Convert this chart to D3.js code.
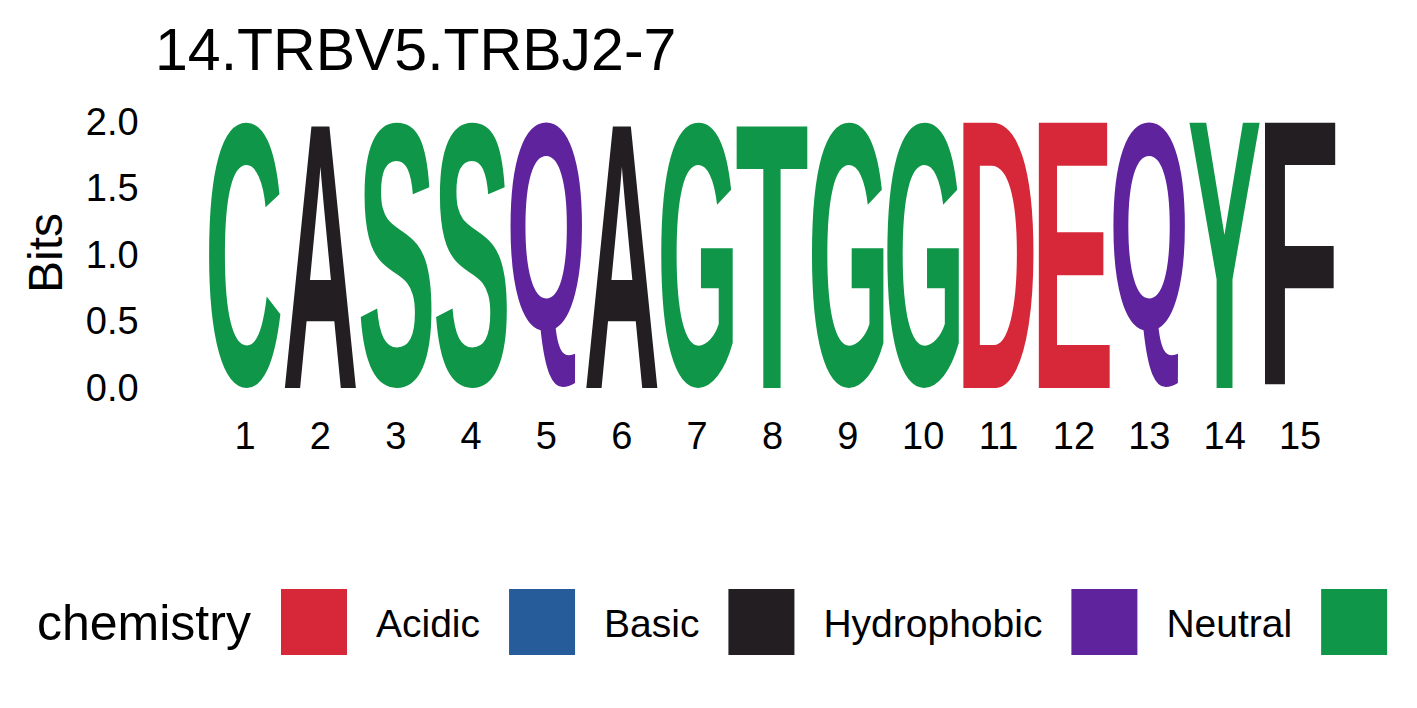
<!DOCTYPE html>
<html>
<head>
<meta charset="utf-8">
<script src="https://cdn.jsdelivr.net/npm/d3@7"></script>
<style>
  html, body { margin: 0; padding: 0; background: #fff; }
  svg text { font-family: 'Liberation Sans', Arial, Helvetica, sans-serif; }
</style>
</head>
<body>
<svg id="logo"></svg>
<script>
const title = '14.TRBV5.TRBJ2-7'
const positions = d3.range(1, 16)
const letters = ['C','A','S','S','Q','A','G','T','G','G','D','E','Q','Y','F']
const bits = [2, 2, 2, 2, 2, 2, 2, 2, 2, 2, 2, 2, 2, 2, 2]
const yTicks = [0, 0.5, 1, 1.5, 2]
const groups = ['Acidic', 'Basic', 'Hydrophobic', 'Neutral', 'Polar']
const groupColors = ['#D62839', '#255C99', '#221E22', '#5E239D', '#109648']
const chemistry = {
  D: 'Acidic', E: 'Acidic',
  K: 'Basic', R: 'Basic', H: 'Basic',
  A: 'Hydrophobic', V: 'Hydrophobic', L: 'Hydrophobic', I: 'Hydrophobic',
  P: 'Hydrophobic', W: 'Hydrophobic', F: 'Hydrophobic', M: 'Hydrophobic',
  Q: 'Neutral', N: 'Neutral',
  G: 'Polar', S: 'Polar', T: 'Polar', Y: 'Polar', C: 'Polar'
}

const dimensions = { width: 1417, height: 708 }
const font = "'Liberation Sans', Arial, Helvetica, sans-serif"

function draw() {
  const svg = d3.select('#logo')
                .attr('width', dimensions.width)
                .attr('height', dimensions.height)
                .style('background-color', '#fff')

  const color = d3.scaleOrdinal().domain(groups).range(groupColors)

  const x = d3.scaleBand()
              .domain(positions)
              .range([205.6, 1339.4])
              .paddingInner(0.045)
              .paddingOuter(0.045)

  const y = d3.scaleLinear()
              .domain([0, 2])
              .range([388, 122])

  // title
  svg.append('text')
      .attr('x', 155)
      .attr('y', 70)
      .attr('font-size', 59)
      .attr('fill', '#000')
      .text(title)

  // axes, no lines
  const xAxis = svg.append('g')
      .attr('transform', `translate(0, ${y(0)})`)
      .call(d3.axisBottom(x).tickSize(0).tickPadding(34))
  const yAxis = svg.append('g')
      .attr('transform', `translate(${x.range()[0]}, 0)`)
      .call(d3.axisLeft(y).tickValues(yTicks).tickFormat(d3.format('.1f')).tickSize(0).tickPadding(67))
  for (const ax of [xAxis, yAxis]) {
    ax.select('.domain').remove()
    ax.selectAll('text').attr('font-size', 38).attr('font-family', font).attr('fill', '#000')
  }

  svg.append('text')
      .attr('transform', 'translate(62, 253) rotate(-90)')
      .attr('text-anchor', 'middle')
      .attr('font-size', 48)
      .attr('fill', '#000')
      .text('Bits')

  // letters stretched to fill their column, using ink bounds from canvas
  const ctx = document.createElement('canvas').getContext('2d')
  ctx.font = `bold 100px ${font}`

  svg.append('g').selectAll('text')
      .data(letters.map((l, i) => ({ letter: l, pos: positions[i], bits: bits[i] })))
      .join('text')
      .attr('font-size', 100)
      .attr('font-weight', 'bold')
      .attr('fill', d => color(chemistry[d.letter]))
      .attr('transform', d => {
        const m = ctx.measureText(d.letter)
        const gw = m.actualBoundingBoxLeft + m.actualBoundingBoxRight
        const gh = m.actualBoundingBoxAscent + m.actualBoundingBoxDescent
        const sx = x.bandwidth() / gw
        const sy = (y(0) - y(d.bits)) / gh
        return `translate(${x(d.pos)}, ${y(d.bits)}) scale(${sx}, ${sy}) translate(${m.actualBoundingBoxLeft}, ${m.actualBoundingBoxAscent})`
      })
      .text(d => d.letter)

  // legend
  const legend = svg.append('g')
  legend.append('text')
      .attr('x', 37)
      .attr('y', 640)
      .attr('font-size', 50)
      .attr('fill', '#000')
      .text('chemistry')

  let kx = 281
  groups.forEach(g => {
    legend.append('rect')
        .attr('x', kx).attr('y', 589)
        .attr('width', 66).attr('height', 66)
        .attr('fill', color(g))
    const t = legend.append('text')
        .attr('x', kx + 95)
        .attr('y', 637)
        .attr('font-size', 39)
        .attr('fill', '#000')
        .text(g)
    kx = kx + 95 + t.node().getComputedTextLength() + 29
  })
}

if (document.fonts && document.fonts.ready) document.fonts.ready.then(draw)
else draw()
</script>
</body>
</html>
